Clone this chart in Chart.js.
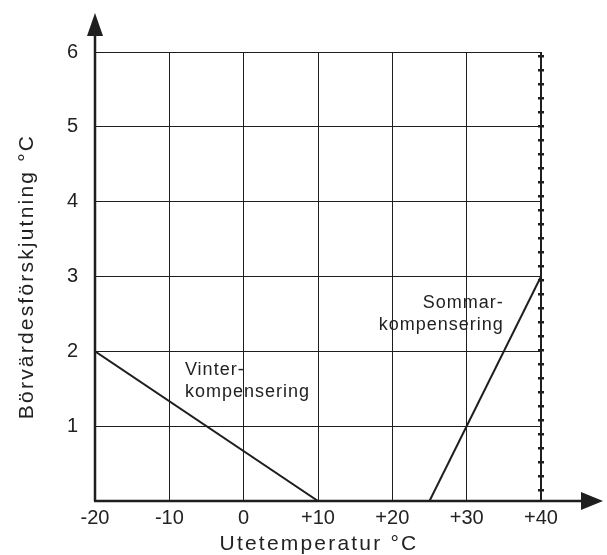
<!DOCTYPE html>
<html>
<head>
<meta charset="utf-8">
<script src="https://cdn.jsdelivr.net/npm/chart.js@4/dist/chart.umd.min.js"></script>
<style>
  html, body { margin: 0; padding: 0; background: #fff; }
  #wrap { width: 607px; height: 555px; }
</style>
</head>
<body>
<div id="wrap"><canvas id="chart" width="607" height="555"></canvas></div>
<script>
// x = utetemperatur, y = börvärdesförskjutning
var vinterX = [-20, 10];
var vinterY = [2, 0];
var sommarX = [25, 40];
var sommarY = [0, 3];
var xTicks = [-20, -10, 0, 10, 20, 30, 40];
var yTicks = [1, 2, 3, 4, 5, 6];
var limitX = 40;
var xTitle = 'Utetemperatur °C';
var yTitle = 'Börvärdesförskjutning °C';

var notes = [
    { lines: ['Vinter-', 'kompensering'], x: -7.9, y: 1.68, align: 'left' },
    { lines: ['Sommar-', 'kompensering'], x: 35.0, y: 2.58, align: 'right' }
];

var ink = '#1e1e1e';
var fontName = '"Liberation Sans", Arial, sans-serif';

function points(xs, ys) {
    return xs.map(function (x, i) { return { x: x, y: ys[i] }; });
}

function lineSet(label, xs, ys) {
    return {
        label: label,
        data: points(xs, ys),
        showLine: true,
        borderColor: ink,
        borderWidth: 2,
        pointRadius: 0,
        fill: false
    };
}

// axes with arrows, dashed limit line, labels, axis titles
var decor = {
    id: 'decor',
    afterDatasetsDraw: function (chart) {
        var c = chart.ctx, xs = chart.scales.x, ys = chart.scales.y, a = chart.chartArea;
        c.save();
        c.strokeStyle = ink;
        c.fillStyle = ink;

        // limit line at +40
        var lx = xs.getPixelForValue(limitX);
        c.lineWidth = 2;
        c.beginPath();
        c.moveTo(lx, a.top);
        c.lineTo(lx, a.bottom);
        c.stroke();
        for (var y = a.top + 3; y < a.bottom - 4; y += 14) {
            c.fillRect(lx - 3, y, 6, 2.5);
        }

        // axes
        c.lineWidth = 2.5;
        c.beginPath();
        c.moveTo(a.left, a.bottom);
        c.lineTo(a.left, 34);
        c.moveTo(a.left - 1, a.bottom);
        c.lineTo(584, a.bottom);
        c.stroke();
        c.beginPath();
        c.moveTo(a.left, 13);
        c.lineTo(a.left - 8, 36);
        c.lineTo(a.left + 8, 36);
        c.closePath();
        c.fill();
        c.beginPath();
        c.moveTo(603, a.bottom);
        c.lineTo(581, a.bottom - 9);
        c.lineTo(581, a.bottom + 9);
        c.closePath();
        c.fill();

        // curve labels
        c.font = '18px ' + fontName;
        c.fillStyle = '#222';
        c.textBaseline = 'alphabetic';
        c.letterSpacing = '1px';
        notes.forEach(function (n) {
            c.textAlign = n.align;
            var px = xs.getPixelForValue(n.x), py = ys.getPixelForValue(n.y);
            n.lines.forEach(function (t, i) { c.fillText(t, px, py + i * 22); });
        });

        // axis titles
        c.font = '21px ' + fontName;
        c.letterSpacing = '2.2px';
        c.textAlign = 'center';
        c.fillText(xTitle, (a.left + a.right) / 2 + 1, 550);
        c.translate(33, (a.top + a.bottom) / 2);
        c.rotate(-Math.PI / 2);
        c.fillText(yTitle, 0, 0);
        c.restore();
    }
};

new Chart(document.getElementById('chart'), {
    type: 'scatter',
    data: {
        datasets: [
            lineSet('Vinterkompensering', vinterX, vinterY),
            lineSet('Sommarkompensering', sommarX, sommarY)
        ]
    },
    options: {
        responsive: false,
        animation: false,
        layout: { padding: { top: 52, right: 66, left: 0, bottom: 0 } },
        plugins: { legend: { display: false }, tooltip: { enabled: false } },
        scales: {
            x: {
                type: 'linear', min: -20, max: 40,
                afterFit: function (s) { s.height = 54; },
                afterBuildTicks: function (s) { s.ticks = xTicks.map(function (v) { return { value: v }; }); },
                border: { display: false },
                grid: {
                    drawTicks: false,
                    lineWidth: 1,
                    color: function (ctx) { return ctx.tick && ctx.tick.value === limitX ? 'rgba(0,0,0,0)' : ink; }
                },
                ticks: {
                    padding: 5,
                    color: '#222',
                    font: { family: fontName, size: 20 },
                    callback: function (v) { return v > 0 ? '+' + v : String(v); }
                }
            },
            y: {
                type: 'linear', min: 0, max: 6,
                afterFit: function (s) { s.width = 95; },
                afterBuildTicks: function (s) { s.ticks = [0].concat(yTicks).map(function (v) { return { value: v }; }); },
                border: { display: false },
                grid: { drawTicks: false, lineWidth: 1, color: ink },
                ticks: {
                    padding: 17,
                    color: '#222',
                    font: { family: fontName, size: 20 },
                    callback: function (v) { return v === 0 ? '' : String(v); }
                }
            }
        }
    },
    plugins: [decor]
});
</script>
</body>
</html>
